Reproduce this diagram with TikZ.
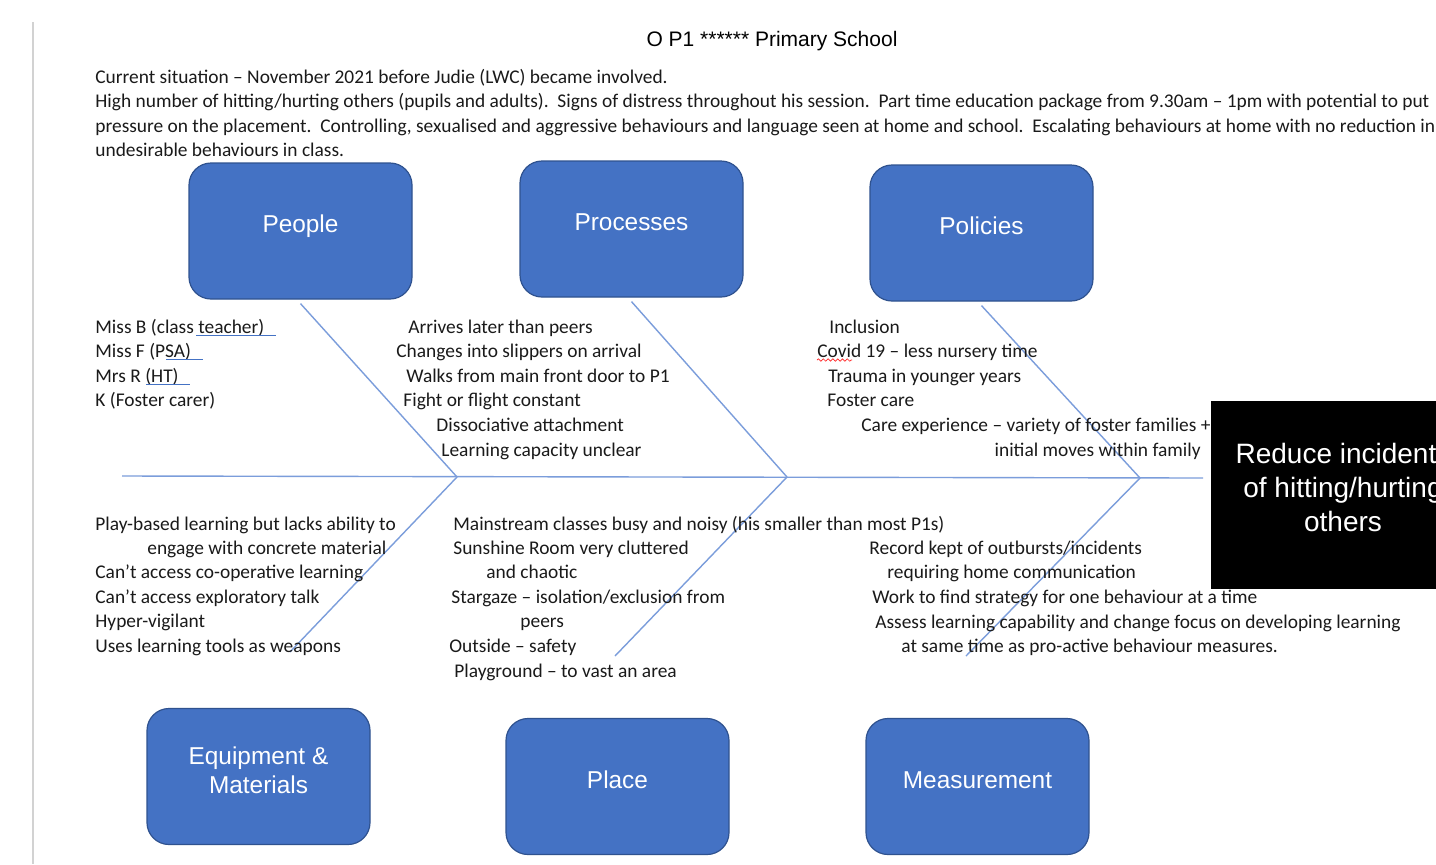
\documentclass[tikz,border=0pt]{standalone}
\usepackage{fontspec}
\setmainfont{Carlito}
\newfontfamily\arialf{Liberation Sans}
\usetikzlibrary{decorations.pathmorphing}
\definecolor{boxblue}{HTML}{4472C4}
\definecolor{boxedge}{HTML}{2F528F}
\definecolor{bonecol}{HTML}{7B9DDB}
\definecolor{txtcol}{HTML}{1A1A1A}
\begin{document}
\begin{tikzpicture}[x=0.5pt,y=-0.5pt,
  txt/.style={anchor=base west, inner sep=0pt, font=\fontsize{9.7}{11}\selectfont, text=txtcol},
  catbox/.style={draw=boxedge, line width=0.6pt, fill=boxblue, rounded corners=11pt,
    minimum width=111.5pt, minimum height=68pt, text=white, align=center,
    text height=9pt, text depth=7.2pt,
    font=\arialf\fontsize{12.2}{14.5}\selectfont},
  boneline/.style={draw=bonecol, line width=0.7pt},
  spell/.style={draw=boxblue, line width=0.3pt, double distance=0.45pt},
]
\useasboundingbox[fill=white] (0,0) rectangle (1436,864);
\draw[gray!35, line width=0.6pt] (33,22) -- (33,864);

% title and situation
\node[anchor=base, inner sep=0pt, font=\arialf\fontsize{10.5}{12}\selectfont] (title) at (772,46) {O P1 ****** Primary School};
\node[txt] (s1) at (95,83) {Current situation -- November 2021 before Judie (LWC) became involved.};
\node[txt] (s2) at (95,107) {High number of hitting/hurting others (pupils and adults).\ \ Signs of distress throughout his session.\ \ Part time education package from 9.30am -- 1pm with potential to put};
\node[txt] (s3) at (95,132) {pressure on the placement.\ \ Controlling, sexualised and aggressive behaviours and language seen at home and school.\ \ Escalating behaviours at home with no reduction in};
\node[txt] (s4) at (95,156) {undesirable behaviours in class.};

% category boxes
\node[catbox] (people) at (300.5,231) {People};
\node[catbox] (processes) at (631.5,229) {Processes};
\node[catbox] (policies) at (981.5,233) {Policies};
\node[catbox, text height=, text depth=] (equip) at (258.5,776.5) {Equipment \&\\Materials\\[-8pt]\mbox{}};
\node[catbox] (place) at (617.5,786.5) {Place};
\node[catbox] (measure) at (977.5,786.5) {Measurement};

% effect box
\node[fill=black, minimum width=132pt, minimum height=94pt, text=white, align=center, inner sep=0pt,
  font=\arialf\fontsize{14}{17}\selectfont] (effect) at (1343,495) {Reduce incidents\\of hitting/hurting\\others\\[-9pt]\mbox{}};

% spine and bones
\coordinate (s0) at (122,476);
\coordinate (s9) at (1203,478);
\coordinate (j1) at (457,477);
\coordinate (j2) at (787,477);
\coordinate (j3) at (1140,478);
\coordinate (e1) at (290,652);
\coordinate (e2) at (615,656);
\coordinate (e3) at (966,656);
\draw[boneline] (s0) -- (s9);
\draw[boneline] ([yshift=-2pt]people.south) -- (j1);
\draw[boneline] ([yshift=-2pt]processes.south) -- (j2);
\draw[boneline] ([yshift=-2pt]policies.south) -- (j3);
\draw[boneline] (j1) -- (e1);
\draw[boneline] (j2) -- (e2);
\draw[boneline] (j3) -- (e3);

% people
\node[txt] (p1) at (95,333) {Miss B (class teacher)};
\node[txt] (p2) at (95,357) {Miss F (PSA)};
\node[txt] (p3) at (95,382) {Mrs R (HT)};
\node[txt] (p4) at (95,406) {K (Foster carer)};
\draw[spell] (196,336) -- (276,336);
\draw[spell] (166,360) -- (203,360);
\draw[spell] (146,385) -- (190,385);

% processes
\node[txt] (r1) at (408,333) {Arrives later than peers};
\node[txt] (r2) at (396,357) {Changes into slippers on arrival};
\node[txt] (r3) at (406,382) {Walks from main front door to P1};
\node[txt] (r4) at (403,406) {Fight or flight constant};
\node[txt] (r5) at (436,431) {Dissociative attachment};
\node[txt] (r6) at (441,456) {Learning capacity unclear};

% policies
\node[txt] (o1) at (829,333) {Inclusion};
\node[txt] (o2) at (817,357) {Covid 19 -- less nursery time};
\node[txt] (o3) at (828,382) {Trauma in younger years};
\node[txt] (o4) at (827,406) {Foster care};
\node[txt] (o5) at (861,431) {Care experience -- variety of foster families +};
\node[txt, anchor=base east] (o6) at (1201,456) {initial moves within family};
\draw[red!85, line width=0.35pt, decorate, decoration={snake, amplitude=0.6pt, segment length=2.4pt}] (817,360) -- (852,360);

% equipment & materials
\node[txt] (q1) at (95,530) {Play-based learning but lacks ability to};
\node[txt] (q2) at (147,554) {engage with concrete material};
\node[txt] (q3) at (95,578) {Can’t access co-operative learning};
\node[txt] (q4) at (95,603) {Can’t access exploratory talk};
\node[txt] (q5) at (95,627) {Hyper-vigilant};
\node[txt] (q6) at (95,652) {Uses learning tools as weapons};

% place
\node[txt] (l1) at (453,530) {Mainstream classes busy and noisy (his smaller than most P1s)};
\node[txt] (l2) at (453,554) {Sunshine Room very cluttered};
\node[txt] (l3) at (486,578) {and chaotic};
\node[txt] (l4) at (451,603) {Stargaze -- isolation/exclusion from};
\node[txt] (l5) at (520,627) {peers};
\node[txt] (l6) at (449,652) {Outside -- safety};
\node[txt] (l7) at (454,677) {Playground -- to vast an area};

% measurement
\node[txt] (m1) at (869,554) {Record kept of outbursts/incidents};
\node[txt] (m2) at (887,578) {requiring home communication};
\node[txt] (m3) at (872,603) {Work to find strategy for one behaviour at a time};
\node[txt] (m4) at (875,628) {Assess learning capability and change focus on developing learning};
\node[txt] (m5) at (901,652) {at same time as pro-active behaviour measures.};
\end{tikzpicture}
\end{document}
